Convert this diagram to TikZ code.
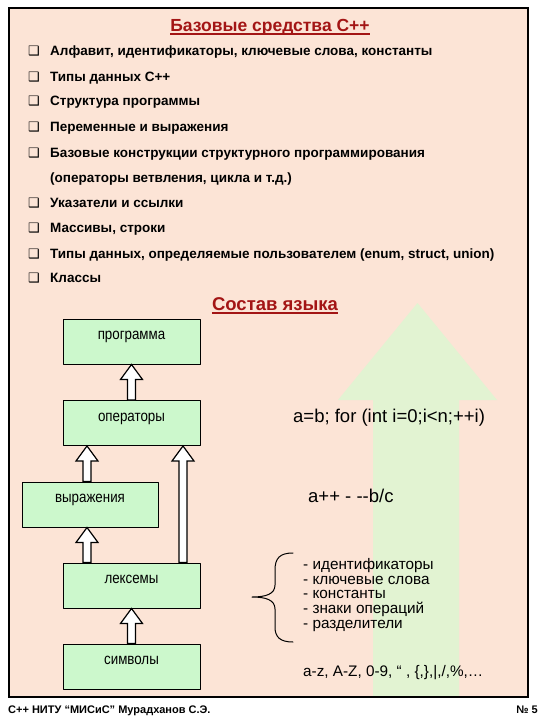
\documentclass[tikz,border=0pt]{standalone}
\usepackage{fontspec}
\setmainfont{Liberation Sans}
\newfontfamily\narrowfont[FakeStretch=0.86]{Liberation Sans}
\newfontfamily\symfont{DejaVu Sans}
\usetikzlibrary{calc}
\definecolor{slidebg}{HTML}{FCE4D6}
\definecolor{arrowgreen}{HTML}{E2F3D2}
\definecolor{boxgreen}{HTML}{CCF8CC}
\definecolor{titlered}{HTML}{A31515}
% hollow block arrow pointing up, from #1 (bottom) to #2 (top)
\newcommand{\hollowup}[2]{%
  \filldraw[hollowarrow] let \p1=(#1), \p2=(#2) in
    (\x1-4pt,\y1) -- (\x1-4pt,\y2-15pt) -- (\x1-11pt,\y2-15pt) -- (\x1,\y2)
    -- (\x1+11pt,\y2-15pt) -- (\x1+4pt,\y2-15pt) -- (\x1+4pt,\y1) -- cycle;}
\newcommand{\chk}{\makebox[22pt][l]{\symfont\fontsize{13}{13}\selectfont ❑}}
\begin{document}
\begin{tikzpicture}[
  levelbox/.style={draw, line width=1pt, fill=boxgreen, minimum width=137pt, minimum height=45pt,
    text height=8pt, text depth=12pt, font=\narrowfont\fontsize{15.5}{15.5}\selectfont},
  hollowarrow/.style={draw=black, fill=white, line width=1.2pt, line join=miter},
  itemtext/.style={anchor=base west, inner sep=0pt, font=\bfseries\fontsize{13.5}{15}\selectfont},
  headline/.style={anchor=base, inner sep=0pt, text=titlered, font=\bfseries\fontsize{17.5}{19}\selectfont},
  codetext/.style={anchor=base west, inner sep=0pt, font=\fontsize{18.5}{18.5}\selectfont},
  footline/.style={inner sep=0pt, font=\bfseries\fontsize{11}{12}\selectfont}
]
\def\pxsz{1pt}
\begin{scope}[x=\pxsz, y=-\pxsz, line cap=round, line join=round]
  \useasboundingbox (0,0) rectangle (540,720);
  % Slide background
  \fill[slidebg] (9,8) rectangle (528,697);
  % Big light green arrow behind the right texts
  \fill[arrowgreen] (373,697) -- (373,400) -- (338,400) -- (417.5,303) -- (497,400) -- (459,400) -- (459,697) -- cycle;
  % Frame
  \draw[line width=1.2pt, line cap=butt, line join=miter] (9,8) rectangle (528,697);

  % Upper part: list of topics
  \node[headline] (title) at (270,31) {Базовые средства С++};
  \draw[titlered, line width=1.3pt, line cap=butt] ([yshift=-3pt]title.base west) -- ([yshift=-3pt]title.base east);
  \node[itemtext] (item1) at (28,55) {\chk Алфавит, идентификаторы, ключевые слова, константы};
  \node[itemtext] (item2) at (28,81) {\chk Типы данных С++};
  \node[itemtext] (item3) at (28,105) {\chk Структура программы};
  \node[itemtext] (item4) at (28,131) {\chk Переменные и выражения};
  \node[itemtext] (item5) at (28,157) {\chk Базовые конструкции структурного программирования};
  \node[itemtext] (item5b) at (50,182) {(операторы ветвления, цикла и т.д.)};
  \node[itemtext] (item6) at (28,207) {\chk Указатели и ссылки};
  \node[itemtext] (item7) at (28,232) {\chk Массивы, строки};
  \node[itemtext] (item8) at (28,258) {\chk Типы данных, определяемые пользователем (enum, struct, union)};
  \node[itemtext] (item9) at (28,282) {\chk Классы};

  % Lower part: language levels
  \node[headline, font=\bfseries\fontsize{18.5}{19}\selectfont] (subtitle) at (275,310) {Состав языка};
  \draw[titlered, line width=1.3pt, line cap=butt] ([yshift=-3pt]subtitle.base west) -- ([yshift=-3pt]subtitle.base east);
  \node[levelbox] (prog) at (131.5,341.5) {программа};
  \node[levelbox] (oper) at (131.5,423) {операторы};
  \node[levelbox, minimum width=136pt] (expr) at (90,504.5) {выражения};
  \node[levelbox] (lex) at (131.5,585.5) {лексемы};
  \node[levelbox] (sym) at (131.5,666.5) {символы};
  % Arrows between the levels
  \hollowup{oper.north}{prog.south}
  \hollowup{[xshift=-3pt]expr.north}{oper.south}
  \hollowup{[xshift=51.5pt]lex.north}{oper.south}
  \hollowup{[xshift=-44.5pt]lex.north}{expr.south}
  \hollowup{sym.north}{lex.south}

  % Examples on the right
  \node[codetext] (opex) at (293,422) {a=b; for (int i=0;i<n;++i)};
  \node[codetext] (exprex) at (308,502) {a++ - -{}-b/c};
  \draw[line width=1pt] (293,553) .. controls (280,553) and (275,558) .. (275,570) -- (275,585)
    .. controls (275,594) and (266,597) .. (252,597) .. controls (266,597) and (275,600) .. (275,609)
    -- (275,627) .. controls (275,637) and (280,642) .. (293,642);
  \node[codetext, anchor=north west, align=left, font=\fontsize{15.3}{14.6}\selectfont] (lexlist) at (303,558.5)
    {- идентификаторы\\- ключевые слова\\- константы\\- знаки операций\\- разделители};
  \node[codetext, font=\fontsize{15.3}{16}\selectfont] (symex) at (303,676) {a-z, A-Z, 0-9, “ , \{,\},|,/,\%,…};

  % Footer
  \node[footline, anchor=base west] (author) at (8,713) {С++ НИТУ “МИСиС” Мурадханов С.Э.};
  \node[footline, anchor=base east] (pageno) at (538,713) {№ 5};
\end{scope}
\end{tikzpicture}
\end{document}
